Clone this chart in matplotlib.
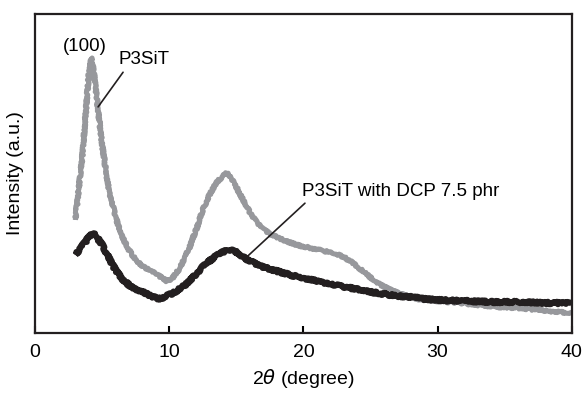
"""XRD pattern of P3SiT with and without DCP."""
import matplotlib
matplotlib.use("Agg")
import matplotlib.pyplot as plt

plt.rcParams["font.family"] = ["Liberation Sans", "DejaVu Sans"]

# 2theta (degree) and intensity (a.u.)
two_theta_p3sit = [3.0, 3.5, 3.8, 4.0, 4.2, 4.4, 4.7, 5.0, 5.5, 6.0, 6.5, 7.0, 7.5,
                   8.0, 8.5, 9.0, 9.5, 9.8, 10.2, 10.8, 11.5, 12.0, 12.5, 13.0, 13.5,
                   14.0, 14.3, 14.7, 15.0, 15.5, 16.0, 16.5, 17.0, 17.5, 18.5, 19.5,
                   20.5, 21.5, 22.3, 23.0, 23.7, 24.5, 25.5, 26.5, 27.5, 28.5, 30.0,
                   31.5, 33.0, 34.5, 36.0, 37.5, 39.0, 40.0]
int_p3sit = [113, 173, 223, 258, 275, 258, 223, 188, 143, 116, 96, 83, 73,
             67, 63, 59, 55, 52, 54, 65, 85, 103, 123, 138, 150,
             157, 160, 153, 146, 133, 121, 111, 104, 99, 93, 88,
             85, 82, 80, 76, 70, 61, 50, 43, 38, 34, 32,
             30, 28, 26, 25, 23, 21, 20]

two_theta_dcp = [3.0, 3.3, 3.7, 4.0, 4.3, 4.6, 5.0, 5.5, 6.0, 6.5, 7.0, 7.5, 8.0,
                 8.5, 9.0, 9.3, 9.8, 10.3, 11.0, 11.5, 12.0, 12.5, 13.0, 13.5, 14.0,
                 14.5, 15.0, 15.5, 16.0, 17.0, 18.0, 19.0, 20.0, 21.0, 22.0, 23.0,
                 24.0, 25.0, 26.0, 27.0, 28.0, 29.0, 30.0, 32.0, 34.0, 36.0, 38.0, 40.0]
int_dcp = [78, 83, 90, 96, 100, 96, 88, 75, 63, 54, 48, 44, 41,
           38, 35, 34, 37, 40, 46, 52, 59, 66, 72, 77, 81,
           83, 81, 76, 72, 66, 62, 58, 55, 52, 49, 46,
           44, 41, 39, 37, 36, 34, 33, 32, 31, 31, 30, 30]

xticks = [0, 10, 20, 30, 40]

fig = plt.figure(figsize=(5.84, 3.95), dpi=100)
ax = fig.add_axes([0.060, 0.157, 0.919, 0.808])

gray_line, = ax.plot(two_theta_p3sit, int_p3sit, color="#97989c", lw=3.6,
                     solid_capstyle="butt")
black_line, = ax.plot(two_theta_dcp, int_dcp, color="#231f20", lw=4.4,
                      solid_capstyle="butt")
# mimic the counting noise of the measured traces
gray_line.set_sketch_params(scale=1.0, length=1.0, randomness=2)
black_line.set_sketch_params(scale=1.2, length=1.0, randomness=2)

ax.set_xlim(0, 40)
ax.set_ylim(0, 319)
ax.set_xticks(xticks)
ax.set_yticks([])
ax.tick_params(axis="x", direction="in", length=5, width=1.5, labelsize=14, pad=8)
for sp in ax.spines.values():
    sp.set_linewidth(1.6)
    sp.set_color("#231f20")

ax.set_xlabel(r"2$\it{\theta}$ (degree)", fontsize=14, labelpad=4)
ax.set_ylabel("Intensity (a.u.)", fontsize=14, labelpad=8)

ax.text(3.7, 286, "(100)", fontsize=13.5, ha="center", va="center")
ax.annotate("P3SiT", xy=(4.7, 226), xytext=(8.1, 273), fontsize=13.5,
            ha="center", va="center",
            arrowprops=dict(arrowstyle="-", color="#231f20", lw=1.2,
                            shrinkA=1, shrinkB=0, relpos=(0.15, 0.0)))
ax.annotate("P3SiT with DCP 7.5 phr", xy=(15.7, 75), xytext=(19.9, 141),
            fontsize=13.5, ha="left", va="center",
            arrowprops=dict(arrowstyle="-", color="#231f20", lw=1.2,
                            shrinkA=0, shrinkB=0,
                            relpos=(0.03, 0.0)))

fig.savefig("out.png", dpi=100)
